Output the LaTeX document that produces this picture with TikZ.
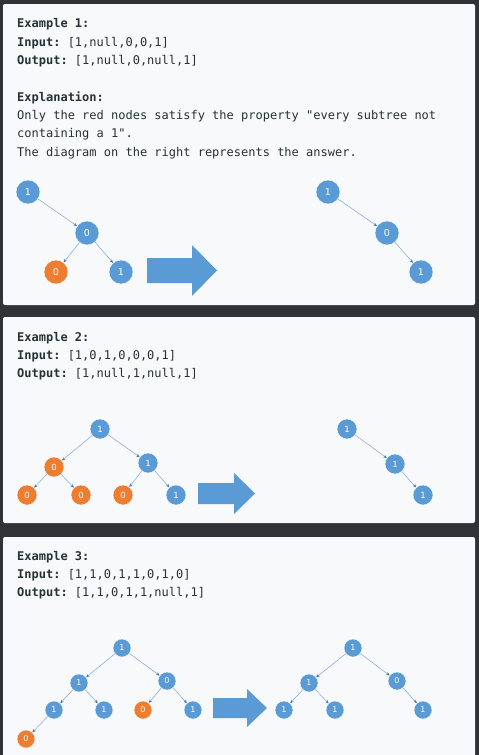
\documentclass[tikz,border=0pt]{standalone}
\usepackage{fontspec}
\setmonofont{DejaVu Sans Mono}
\setsansfont{DejaVu Sans}
\usetikzlibrary{arrows.meta}
\definecolor{frame}{RGB}{48,50,54}
\definecolor{panel}{RGB}{247,249,250}
\definecolor{ink}{RGB}{38,50,56}
\definecolor{nblue}{RGB}{91,155,213}
\definecolor{norange}{RGB}{237,125,49}
\definecolor{edgeblue}{RGB}{128,164,220}
\definecolor{tipblue}{RGB}{68,114,196}
\tikzset{
  card/.style={fill=panel, rounded corners=2pt},
  txt/.style={anchor=base west, inner sep=0pt, text=ink, font=\ttfamily\fontsize{12}{14}\selectfont},
  bnode/.style={circle, fill=nblue, draw=white, line width=0.4pt, inner sep=0pt, text=white, font=\sffamily\fontsize{8.5}{9}\selectfont},
  onode/.style={bnode, fill=norange},
  big/.style={minimum size=24pt, font=\sffamily\fontsize{9.5}{10}\selectfont},
  mid/.style={minimum size=20pt},
  small/.style={minimum size=18pt, font=\sffamily\fontsize{8}{9}\selectfont},
  link/.style={draw=edgeblue, line width=0.5pt, -{Stealth[length=3.5pt,width=3pt,color=tipblue]}},
  bigarrow/.style={fill=nblue, draw=none}
}
\begin{document}
\begin{tikzpicture}[x=1pt, y=-1pt]
\useasboundingbox (0,0) rectangle (479,755);
\fill[frame] (0,0) rectangle (479,755);

% cards
\fill[card] (3,4) rectangle (475,305);
\fill[card] (3,317) rectangle (475,523);
\fill[card] (3,537) rectangle (475,758);

% ---- Example 1 text
\node[txt] (t11) at (17,27) {\textbf{Example 1:}};
\node[txt] (t12) at (17,46) {\textbf{Input:} [1,null,0,0,1]};
\node[txt] (t13) at (17,64) {\textbf{Output:} [1,null,0,null,1]};
\node[txt] (t14) at (17,101) {\textbf{Explanation:}};
\node[txt] (t15) at (17,119) {Only the red nodes satisfy the property "every subtree not};
\node[txt] (t16) at (17,137) {containing a 1".};
\node[txt] (t17) at (17,156) {The diagram on the right represents the answer.};

% ---- Example 1 trees
\node[bnode,big] (a1) at (28,192) {1};
\node[bnode,big] (a2) at (87,233) {0};
\node[onode,big] (a3) at (56,272) {0};
\node[bnode,big] (a4) at (121,272) {1};
\draw[link] (a1) -- (a2);
\draw[link] (a2) -- (a3);
\draw[link] (a2) -- (a4);

\fill[bigarrow] (147,258) -- (192,258) -- (192,245) -- (217,270.5) -- (192,296) -- (192,283) -- (147,283) -- cycle;

\node[bnode,big] (b1) at (328,192) {1};
\node[bnode,big] (b2) at (387,233) {0};
\node[bnode,big] (b3) at (421,272) {1};
\draw[link] (b1) -- (b2);
\draw[link] (b2) -- (b3);

% ---- Example 2 text
\node[txt] (t21) at (17,341) {\textbf{Example 2:}};
\node[txt] (t22) at (17,359) {\textbf{Input:} [1,0,1,0,0,0,1]};
\node[txt] (t23) at (17,377) {\textbf{Output:} [1,null,1,null,1]};

% ---- Example 2 trees
\node[bnode,mid] (c1) at (100,429) {1};
\node[onode,mid] (c2) at (54,467) {0};
\node[bnode,mid] (c3) at (148,463) {1};
\node[onode,mid] (c4) at (27,495) {0};
\node[onode,mid] (c5) at (81,495) {0};
\node[onode,mid] (c6) at (123,495) {0};
\node[bnode,mid] (c7) at (176,495) {1};
\draw[link] (c1) -- (c2);
\draw[link] (c1) -- (c3);
\draw[link] (c2) -- (c4);
\draw[link] (c2) -- (c5);
\draw[link] (c3) -- (c6);
\draw[link] (c3) -- (c7);

\fill[bigarrow] (198,483) -- (234,483) -- (234,473) -- (255,493.5) -- (234,514) -- (234,504) -- (198,504) -- cycle;

\node[bnode,mid] (d1) at (347,429) {1};
\node[bnode,mid] (d2) at (395,464) {1};
\node[bnode,mid] (d3) at (423,495) {1};
\draw[link] (d1) -- (d2);
\draw[link] (d2) -- (d3);

% ---- Example 3 text
\node[txt] (t31) at (17,560) {\textbf{Example 3:}};
\node[txt] (t32) at (17,578) {\textbf{Input:} [1,1,0,1,1,0,1,0]};
\node[txt] (t33) at (17,596) {\textbf{Output:} [1,1,0,1,1,null,1]};

% ---- Example 3 trees
\node[bnode,small] (e1) at (122,648) {1};
\node[bnode,small] (e2) at (79,683) {1};
\node[bnode,small] (e3) at (167,681) {0};
\node[bnode,small] (e4) at (54,710) {1};
\node[bnode,small] (e5) at (104,710) {1};
\node[onode,small] (e6) at (143,710) {0};
\node[bnode,small] (e7) at (193,710) {1};
\node[onode,small] (e8) at (26,739) {0};
\draw[link] (e1) -- (e2);
\draw[link] (e1) -- (e3);
\draw[link] (e2) -- (e4);
\draw[link] (e2) -- (e5);
\draw[link] (e3) -- (e6);
\draw[link] (e3) -- (e7);
\draw[link] (e4) -- (e8);

\fill[bigarrow] (213,698) -- (247,698) -- (247,689) -- (267,708) -- (247,727) -- (247,718) -- (213,718) -- cycle;

\node[bnode,small] (f1) at (353,648) {1};
\node[bnode,small] (f2) at (309,683) {1};
\node[bnode,small] (f3) at (397,681) {0};
\node[bnode,small] (f4) at (284,710) {1};
\node[bnode,small] (f5) at (335,710) {1};
\node[bnode,small] (f6) at (423,710) {1};
\draw[link] (f1) -- (f2);
\draw[link] (f1) -- (f3);
\draw[link] (f2) -- (f4);
\draw[link] (f2) -- (f5);
\draw[link] (f3) -- (f6);
\end{tikzpicture}
\end{document}
